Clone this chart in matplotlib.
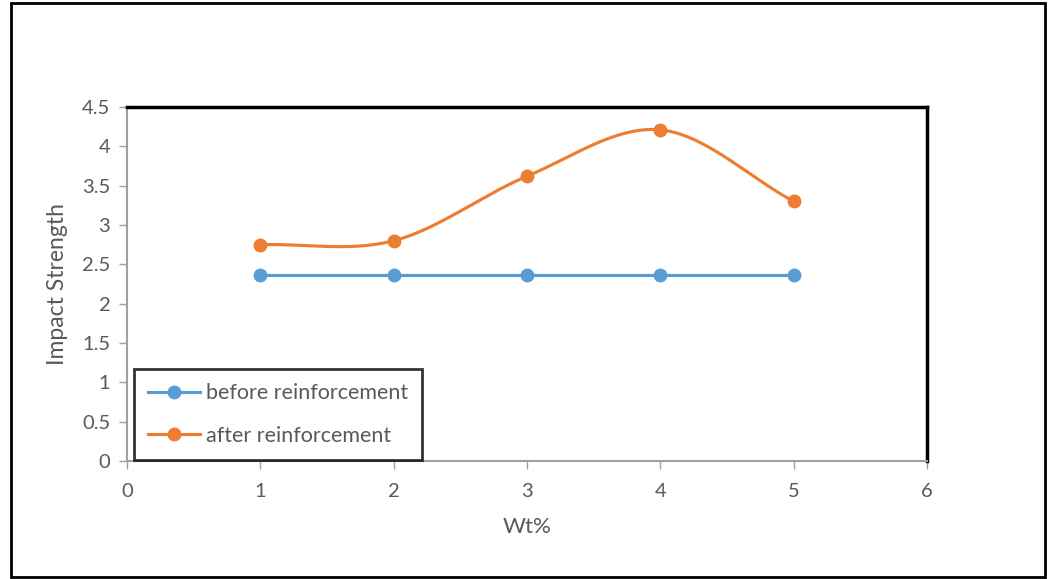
import numpy as np
import matplotlib.pyplot as plt
from matplotlib.patches import Rectangle

# Data
wt = [1, 2, 3, 4, 5]
before = [2.37, 2.37, 2.37, 2.37, 2.37]
after = [2.75, 2.80, 3.62, 4.21, 3.30]

blue = '#5b9bd5'
orange = '#ed7d31'

plt.rcParams['font.family'] = ['Lato', 'DejaVu Sans']


def smooth(x, y, n=40):
    # Catmull-Rom curve through the points, like the spreadsheet "smoothed line"
    x = np.asarray(x, float)
    y = np.asarray(y, float)
    px = np.concatenate([[2 * x[0] - x[1]], x, [2 * x[-1] - x[-2]]])
    py = np.concatenate([[2 * y[0] - y[1]], y, [2 * y[-1] - y[-2]]])
    xs, ys = [], []
    t = np.linspace(0, 1, n)
    for i in range(1, len(px) - 2):
        for p, out in ((px, xs), (py, ys)):
            p0, p1, p2, p3 = p[i - 1], p[i], p[i + 1], p[i + 2]
            out.extend(0.5 * (2 * p1 + (-p0 + p2) * t
                              + (2 * p0 - 5 * p1 + 4 * p2 - p3) * t ** 2
                              + (-p0 + 3 * p1 - 3 * p2 + p3) * t ** 3))
    return xs, ys


fig = plt.figure(figsize=(10.51, 5.79), dpi=100)
fig.patches.append(Rectangle((0.0105, 0.003), 0.984, 0.992, transform=fig.transFigure,
                             fill=False, edgecolor='black', linewidth=2))

ax = fig.add_axes([0.1208, 0.2038, 0.7612, 0.6114])

ax.plot(wt, before, color=blue, linewidth=2.25, marker='o', markersize=9,
        label='before reinforcement')
sx, sy = smooth(wt, after)
ax.plot(sx, sy, color=orange, linewidth=2.25)
ax.plot(wt, after, color=orange, linewidth=2.25, marker='o', markersize=9,
        linestyle='none')
ax.plot([], [], color=orange, linewidth=2.25, marker='o', markersize=9,
        label='after reinforcement')

ax.set_xlim(0, 6)
ax.set_ylim(0, 4.5)
ax.set_xticks(range(0, 7))
ax.set_yticks(np.arange(0, 4.51, 0.5))
ax.set_yticklabels(['0', '0.5', '1', '1.5', '2', '2.5', '3', '3.5', '4', '4.5'])

for side in ('left', 'bottom'):
    ax.spines[side].set_color('#a0a0a0')
    ax.spines[side].set_linewidth(1.5)
for side in ('top', 'right'):
    ax.spines[side].set_color('black')
    ax.spines[side].set_linewidth(2.5)
ax.tick_params(colors='#a0a0a0', labelcolor='#595959', labelsize=14.5, length=6, width=1)
ax.tick_params(axis='x', pad=10)
ax.tick_params(axis='y', pad=6)

ax.set_xlabel('Wt%', fontsize=16, color='#595959', labelpad=12)
ax.set_ylabel('Impact Strength', fontsize=16.5, color='#595959', labelpad=10)

leg = ax.legend(loc='lower left', bbox_to_anchor=(0.009, 0.003), fontsize=15.5,
                frameon=True, fancybox=False, labelcolor='#595959',
                handlelength=2.4, handletextpad=0.3, borderpad=0.65,
                labelspacing=1.05, borderaxespad=0)
leg.get_frame().set_edgecolor('black')
leg.get_frame().set_linewidth(2)

fig.savefig('out.png', dpi=100)
